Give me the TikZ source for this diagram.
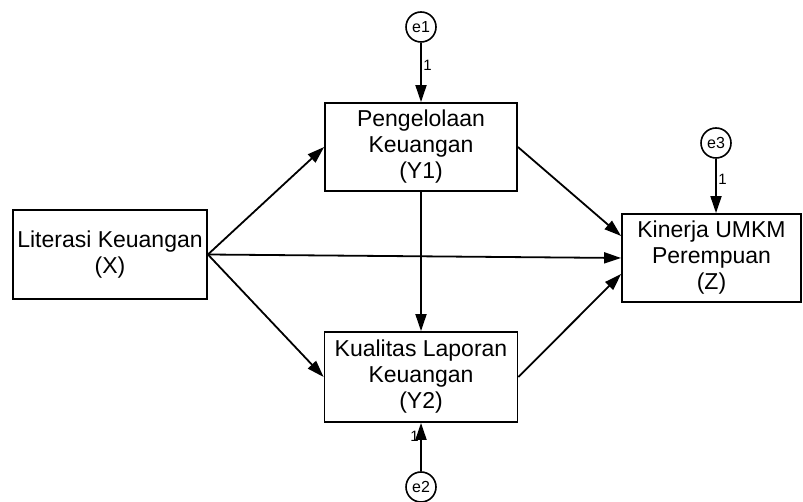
\documentclass[tikz,border=0pt]{standalone}
\usepackage{fontspec}
\setmainfont{Liberation Sans}
\usetikzlibrary{arrows.meta}
\begin{document}
\begin{tikzpicture}[x=1pt,y=-1pt,
  box/.style={draw,line width=1.8pt,align=center,inner sep=0pt,font=\fontsize{23}{26}\selectfont},
  err/.style={draw,circle,line width=1.6pt,minimum size=30pt,inner sep=0pt,font=\fontsize{16}{18}\selectfont},
  arr/.style={line width=1.8pt,-{Triangle[length=17pt,width=11pt]}},
  lbl/.style={font=\fontsize{15}{17}\selectfont,inner sep=1.5pt}]
\useasboundingbox[fill=white] (0,0) rectangle (803,502);
\node[box,minimum width=194pt,minimum height=89pt] (X) at (110,254.5) {Literasi Keuangan\\(X)};
\node[box,minimum width=192pt,minimum height=88pt] (Y1) at (421,147) {Pengelolaan\\Keuangan\\(Y1)};
\node[box,minimum width=193pt,minimum height=90pt] (Y2) at (421,377) {Kualitas Laporan\\Keuangan\\(Y2)};
\node[box,minimum width=179pt,minimum height=88pt] (Z) at (711.5,258) {Kinerja UMKM\\Perempuan\\(Z)};
\node[err] (e1) at (421,27) {e1};
\node[err] (e2) at (421,487) {e2};
\node[err] (e3) at (716,143) {e3};
\draw[arr] (X.east) -- (Y1.west);
\draw[arr] (X.east) -- (Y2.west);
\draw[arr] (X.east) -- (Z.west);
\draw[arr] (Y1.east) -- ([yshift=22pt]Z.west);
\draw[arr] (Y2.east) -- ([yshift=-16pt]Z.west);
\draw[arr] (Y1.south) -- (Y2.north);
\draw[arr] (e1) -- node[lbl,right,pos=0.38] {1} (e1 |- Y1.north);
\draw[arr] (e3) -- node[lbl,right,pos=0.38] {1} (e3 |- Z.north);
\draw[arr] (e2) -- node[lbl,left,pos=0.72] {1} (e2 |- Y2.south);
\end{tikzpicture}
\end{document}
